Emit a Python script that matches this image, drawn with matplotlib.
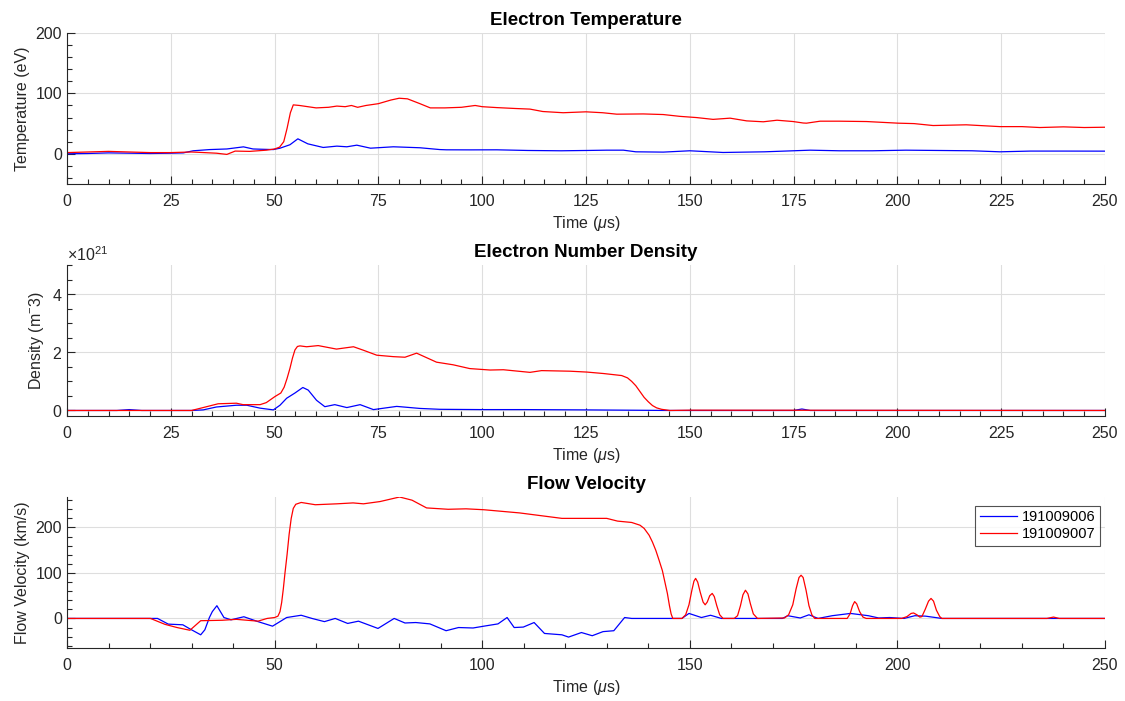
import numpy as np
import matplotlib
matplotlib.use("Agg")
import matplotlib.pyplot as plt
from matplotlib.ticker import MultipleLocator, ScalarFormatter

plt.rcParams['font.family'] = ['Liberation Sans', 'DejaVu Sans']
plt.rcParams['mathtext.fontset'] = 'custom'
plt.rcParams['mathtext.rm'] = 'Liberation Sans'
plt.rcParams['mathtext.it'] = 'Liberation Sans:italic'

shots = ['191009006', '191009007']

# electron temperature (eV)
te_t_006 = [0, 5, 10, 15, 20, 25, 28, 30.4, 34.4, 38.5, 42.5, 44.8, 47, 49.7, 51.3, 53.7, 55.6, 58,
            61.7, 65, 67.4, 69.8, 73.1, 78.6, 85, 89.8, 91.4, 97, 103.5, 111, 119, 125, 130, 134,
            137, 143.6, 150, 158, 168, 179, 186, 194, 202, 210, 218, 224.7, 232, 240, 250]
te_006 = [0, 0.5, 1.5, 1, 0.5, 1, 1.5, 5, 7, 8, 11.5, 8, 7.5, 7, 9.3, 15, 24.8, 16.5,
          10.5, 12.7, 11.6, 14.3, 9.3, 11.6, 10, 7, 6.6, 6.5, 6.6, 5.5, 5, 5.5, 6, 6,
          3.3, 2.8, 5, 2.2, 3.3, 6, 5, 5, 6, 5.5, 5, 3.3, 4.5, 4.5, 4.4]
te_t_007 = [0, 5, 10, 15, 20, 25, 30, 33, 36, 38.5, 40.5, 44, 48, 50, 51.2, 52.2, 53, 53.8, 54.5,
            56, 58, 60, 63, 65, 67, 68.5, 70, 72, 75, 78, 80, 82, 85, 87.5, 91, 95, 98.3, 100,
            103.5, 108, 111.5, 114.6, 119.5, 125, 129, 132.4, 138.8, 143.6, 147.6, 151.6, 155.6,
            159.7, 163.7, 167.7, 171, 174.9, 177.3, 178.1, 181.4, 186, 192.6, 200.2, 204, 208.6,
            216.6, 224.7, 230, 234.3, 240, 245, 250]
te_007 = [2, 3, 4, 3, 2, 2, 3, 2, 1, -1, 4.5, 4, 6, 8, 11, 20, 42, 68, 81,
          80, 78, 76, 77, 79, 78, 80, 77, 80, 83, 89, 92, 91, 83, 76, 76, 77, 80, 78,
          76.5, 75, 74, 70, 68, 69.5, 68, 65.6, 66, 65, 62, 60, 57,
          59, 54.5, 53, 55.6, 53.4, 51, 50.7, 54, 54, 53.4, 50.7, 50, 46.8,
          48, 45, 45, 43.5, 44.6, 43.5, 44]

# electron number density (x 1e21 m^-3)
ne_t_006 = [0, 12, 15, 18, 30, 32.8, 36, 40.8, 43.3, 46.5, 49.7, 51.3, 52.9, 54.9, 56.8, 58.1,
            60.1, 62.1, 64.5, 67.4, 70.6, 73.8, 79.4, 85, 89.8, 100, 110, 125, 135, 145, 175,
            177, 179, 250]
ne_006 = [0, 0, 0.03, 0, 0, 0.02, 0.12, 0.18, 0.18, 0.08, 0.02, 0.18, 0.42, 0.6, 0.79, 0.7,
          0.35, 0.13, 0.2, 0.1, 0.2, 0.03, 0.14, 0.07, 0.04, 0.03, 0.03, 0.02, 0.01, 0, 0,
          0.05, 0, 0]
ne_t_007 = [0, 30, 32.8, 36.4, 40.8, 42.4, 46.5, 48, 50.1, 51.5, 52.3, 53, 53.7, 54.3, 54.9, 55.5,
            56.1, 57.7, 60.5, 64.9, 69, 71.4, 74.6, 78.6, 81.4, 84.2, 89, 93, 97, 101.9, 105.1,
            111.5, 114.3, 121.1, 125.2, 129.2, 133.6, 135, 136, 137, 138, 139, 140, 141, 142,
            143.2, 145.2, 150, 250]
ne_007 = [0, 0, 0.1, 0.23, 0.25, 0.2, 0.2, 0.27, 0.48, 0.6, 0.8, 1.1, 1.45, 1.8, 2.08, 2.2,
          2.22, 2.19, 2.23, 2.11, 2.19, 2.07, 1.9, 1.85, 1.83, 1.97, 1.66, 1.57, 1.44, 1.39, 1.4,
          1.31, 1.37, 1.35, 1.32, 1.27, 1.2, 1.12, 1.0, 0.85, 0.65, 0.45, 0.3, 0.17, 0.09,
          0.04, 0.0, 0.01, 0]
ne_scale = 1e21

# flow velocity (km/s)
v_t_006 = [0, 20, 21.8, 24.4, 27.9, 29.6, 32.2, 33.2, 34.3, 35, 36.1, 37.8, 39.5, 42.6, 46, 49.5,
           52.9, 56.4, 59, 62, 64.6, 67.6, 70.2, 74.9, 78.8, 81.4, 84, 87.4, 91.3, 94.3, 97.8,
           100.4, 103.8, 106, 107.7, 109.9, 112.5, 115, 119.2, 120.8, 123.9, 126.5, 129.1,
           131.7, 134.3, 136, 148.1, 149.8, 152.8, 155, 157.6, 172.3, 173.6, 176.6, 178.7,
           180.9, 184.3, 188.7, 193, 195.5, 198.1, 201.6, 204.2, 206.8, 210.7, 250]
v_006 = [0, 0, 0, -12.5, -14, -23, -36, -25, 2, 15, 28, 2, -3, 3.7, -7, -17,
         2, 7, 0, -7, 0, -11, -6, -22, 0, -10, -9, -12, -27, -20, -21,
         -17, -12, 2, -20, -19, -9, -33, -36, -41, -31, -38, -29,
         -27, 2, 0, 0, 11, 2, 7, 0, 0, 6, 1, 8,
         0, 6, 11, 6, 1, 2, 0, 6, 5, 0, 0]
v_t_007 = [0, 20.1, 23.6, 26.5, 29.6, 32.2, 37.4, 40.8, 46, 48.2, 50, 50.8, 51.3, 51.7, 52.1,
           52.5, 53, 53.5, 54, 54.5, 55.1, 56.4, 59.8, 65, 68.9, 71.4, 75.4, 80.1, 83.1, 86.6,
           91.8, 96.1, 100.4, 109, 119.2, 130, 132.6, 136, 138, 139, 140.2, 141, 141.8, 142.6,
           143.4, 144, 144.6, 145.1, 145.5, 145.9,
           148.1, 149, 149.8, 150.5, 151, 151.4, 151.9, 152.5, 153.2, 153.7, 154.2, 154.8,
           155.4, 155.9, 156.5, 157.2, 158,
           160.7, 161.5, 162.2, 162.8, 163.4, 164, 164.6, 165.3, 166.3,
           172.8, 173.8, 174.8, 175.6, 176.3, 176.8, 177.3, 178, 178.7, 179.4, 180.1,
           187.9, 188.6, 189.2, 189.7, 190.2, 190.9, 191.7, 192.5,
           201, 202.3, 203.3, 203.9, 204.7, 205.4, 205.9, 206.7, 207.5, 208.1, 208.7, 209.4,
           210.2, 210.7,
           236, 237.6, 239, 250]
v_007 = [0, 0, -13, -20, -26, -5, -4, -2, -6, 0, 2, 5, 15, 35, 65,
         100, 140, 185, 220, 242, 251, 255, 250, 252, 254, 252, 257, 267, 260, 243,
         240, 241, 239, 232, 220, 220, 214, 211, 205, 198, 183, 168, 150, 128,
         105, 80, 55, 28, 10, 0,
         0, 8, 30, 62, 82, 88, 80, 58, 36, 30, 36, 50,
         55, 48, 28, 8, 0,
         0, 6, 28, 52, 62, 54, 32, 10, 0,
         1, 8, 30, 65, 90, 95, 90, 62, 28, 8, 0,
         0, 10, 28, 37, 32, 15, 3, 0,
         0, 4, 11, 12, 8, 3, 4, 20, 38, 44, 38, 18,
         4, 0,
         0, 3, 0, 0]

blue = (0, 0, 1)
red = (1, 0, 0)
dark = '#262626'

fig = plt.figure(figsize=(11.25, 7.01), dpi=100)
left, width, height = 67 / 1125, 1038 / 1125, 151 / 701
ax1 = fig.add_axes([left, 1 - 184 / 701, width, height])
ax2 = fig.add_axes([left, 1 - 416 / 701, width, height])
ax3 = fig.add_axes([left, 1 - 648 / 701, width, height])

ax1.plot(te_t_006, te_006, color=blue, lw=0.9)
ax1.plot(te_t_007, te_007, color=red, lw=0.9)
ax2.plot(ne_t_006, np.array(ne_006) * ne_scale, color=blue, lw=0.9)
ax2.plot(ne_t_007, np.array(ne_007) * ne_scale, color=red, lw=0.9)
ax3.plot(v_t_006, v_006, color=blue, lw=0.9, label=shots[0])
ax3.plot(v_t_007, v_007, color=red, lw=0.9, label=shots[1])

ax1.set_ylim(-50, 200)
ax2.set_ylim(-0.19e21, 5e21)
ax3.set_ylim(-65, 267)

ax1.set_title('Electron Temperature', fontsize=13.5, fontweight='bold', pad=6)
ax2.set_title('Electron Number Density', fontsize=13.5, fontweight='bold', pad=6)
ax3.set_title('Flow Velocity', fontsize=13.5, fontweight='bold', pad=6)
ax1.set_ylabel('Temperature (eV)')
ax2.set_ylabel(r'Density (m$^{-}$3)')
ax3.set_ylabel('Flow Velocity (km/s)')

for ax in (ax1, ax2, ax3):
    ax.set_xlim(0, 250)
    ax.set_xlabel(r'Time ($\mu$s)', fontsize=11.5, color=dark, labelpad=4)
    ax.yaxis.label.set_color(dark)
    ax.yaxis.label.set_fontsize(11.5)
    ax.grid(True, color='#dedede', lw=0.8)
    ax.set_axisbelow(True)
    for s in ('top', 'right'):
        ax.spines[s].set_visible(False)
    for s in ('left', 'bottom'):
        ax.spines[s].set_color(dark)
        ax.spines[s].set_linewidth(0.8)
    ax.tick_params(which='both', direction='in', colors=dark, labelsize=11.5, width=0.8)
    ax.tick_params(which='major', length=6)
    ax.tick_params(which='minor', length=3.5)
    ax.tick_params(axis='x', which='both', pad=7)

ax1.xaxis.set_major_locator(MultipleLocator(25))
ax1.xaxis.set_minor_locator(MultipleLocator(5))
ax2.xaxis.set_major_locator(MultipleLocator(25))
ax2.xaxis.set_minor_locator(MultipleLocator(5))
ax3.xaxis.set_major_locator(MultipleLocator(50))
ax3.xaxis.set_minor_locator(MultipleLocator(10))
ax1.yaxis.set_major_locator(MultipleLocator(100))
ax1.yaxis.set_minor_locator(MultipleLocator(20))
ax2.yaxis.set_major_locator(MultipleLocator(2e21))
ax2.yaxis.set_minor_locator(MultipleLocator(0.5e21))
ax3.yaxis.set_major_locator(MultipleLocator(100))
ax3.yaxis.set_minor_locator(MultipleLocator(20))

fmt = ScalarFormatter(useMathText=True)
fmt.set_powerlimits((0, 0))
ax2.yaxis.set_major_formatter(fmt)
ax2.yaxis.get_offset_text().set_fontsize(11.5)
ax2.yaxis.get_offset_text().set_color(dark)

leg = ax3.legend(loc='upper right', bbox_to_anchor=(0.995, 0.94), fontsize=10.5,
                 frameon=True, fancybox=False, handlelength=2.6, borderpad=0.3,
                 labelspacing=0.2, handletextpad=0.3, borderaxespad=0)
leg.get_frame().set_edgecolor(dark)
leg.get_frame().set_linewidth(0.8)

fig.savefig('out.png', dpi=100, facecolor='white')
